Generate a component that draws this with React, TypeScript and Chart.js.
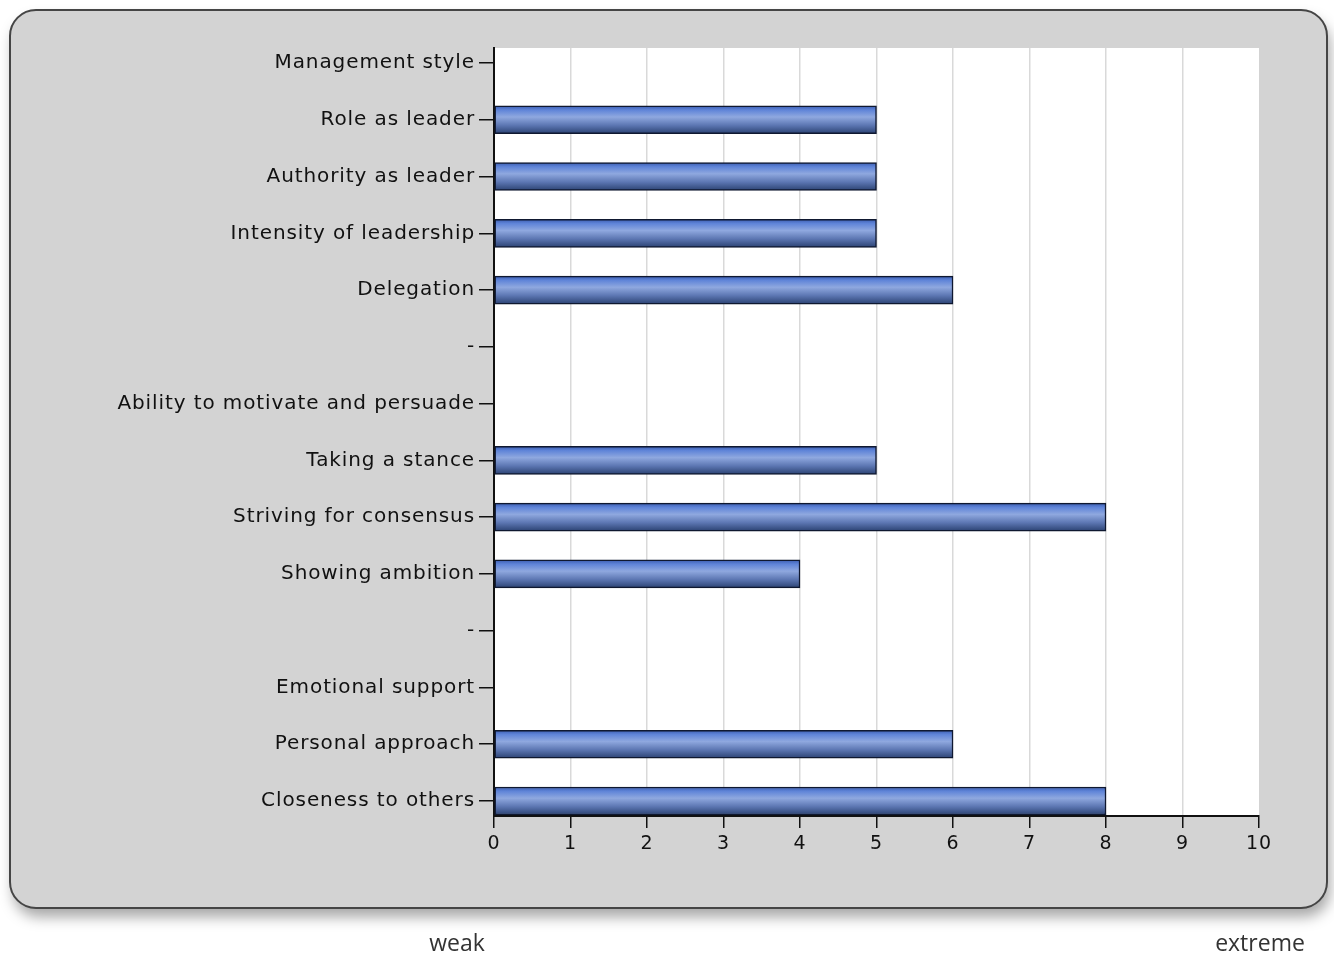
import React, { useEffect, useRef } from 'react';
import { Chart, registerables } from 'chart.js';

Chart.register(...registerables);

const categories: string[] = [
  'Management style',
  'Role as leader',
  'Authority as leader',
  'Intensity of leadership',
  'Delegation',
  '-',
  'Ability to motivate and persuade',
  'Taking a stance',
  'Striving for consensus',
  'Showing ambition',
  '-',
  'Emotional support',
  'Personal approach',
  'Closeness to others',
];

const scores: (number | null)[] = [null, 5, 5, 5, 6, null, null, 5, 8, 4, null, null, 6, 8];

const xMin = 0;
const xMax = 10;
const xStep = 1;

const scaleEndLabels: string[] = ['weak', 'extreme'];

const W = 1334;
const H = 958;

const panelPlugin = {
  id: 'panel',
  beforeDraw(chart: any) {
    const c = chart.ctx as CanvasRenderingContext2D;
    const area = chart.chartArea;
    c.save();
    c.shadowColor = 'rgba(0,0,0,0.35)';
    c.shadowBlur = 14;
    c.shadowOffsetX = 3;
    c.shadowOffsetY = 9;
    c.beginPath();
    (c as any).roundRect(10, 10, 1317, 898, 26);
    c.fillStyle = '#d3d3d3';
    c.fill();
    c.restore();
    c.save();
    c.beginPath();
    (c as any).roundRect(10, 10, 1317, 898, 26);
    c.lineWidth = 2;
    c.strokeStyle = '#454545';
    c.stroke();
    c.fillStyle = '#ffffff';
    c.fillRect(area.left, area.top, area.right - area.left, area.bottom - area.top);
    c.restore();
    (c as any).letterSpacing = '0.9px';
  },
  afterDraw(chart: any) {
    const c = chart.ctx as CanvasRenderingContext2D;
    (c as any).letterSpacing = '0px';
    c.save();
    c.font = '23px "Open Sans"';
    c.fillStyle = '#333333';
    c.textAlign = 'center';
    c.textBaseline = 'middle';
    c.fillText(scaleEndLabels[0], 457, 944);
    c.fillText(scaleEndLabels[1], 1260, 944);
    c.restore();
  },
};

export default function App() {
  const ref = useRef<HTMLCanvasElement | null>(null);

  useEffect(() => {
    const canvas = ref.current;
    if (!canvas) return;

    const points = scores
      .map((v, i) => (v == null ? null : { x: v, y: i }))
      .filter((p) => p !== null) as { x: number; y: number }[];

    const chart = new Chart(canvas, {
      type: 'bar',
      data: {
        datasets: [
          {
            data: points as any,
            barThickness: 28,
            borderWidth: 1.5,
            borderColor: '#0f1830',
            borderSkipped: false,
            backgroundColor: (ctx: any) => {
              const ch = ctx.chart;
              const ys = ch.scales && ch.scales.y;
              const raw = ctx.raw;
              if (!ys || !raw) return '#5a7cc8';
              const yc = ys.getPixelForValue(raw.y);
              if (!isFinite(yc)) return '#5a7cc8';
              const g = ch.ctx.createLinearGradient(0, yc - 14, 0, yc + 14);
              g.addColorStop(0, '#3a5cb0');
              g.addColorStop(0.15, '#5f84d8');
              g.addColorStop(0.4, '#8fa8df');
              g.addColorStop(0.7, '#5c76b2');
              g.addColorStop(1, '#2b4272');
              return g;
            },
          } as any,
        ],
      },
      options: {
        indexAxis: 'y',
        responsive: false,
        animation: false,
        devicePixelRatio: 1,
        layout: { padding: { left: 0, top: 48, right: 75, bottom: 0 } },
        plugins: {
          legend: { display: false },
          tooltip: { enabled: false },
        },
        scales: {
          y: {
            type: 'linear',
            reverse: true,
            offset: false,
            min: -0.264,
            max: categories.length - 1 + 0.264,
            afterBuildTicks: (scale: any) => {
              scale.ticks = categories.map((_, i) => ({ value: i }));
            },
            afterFit: (scale: any) => {
              scale.width = 494;
            },
            ticks: {
              autoSkip: false,
              padding: 4,
              color: '#111111',
              font: { family: 'DejaVu Sans', size: 20 },
              callback: (_v: any, index: number) => categories[index],
            },
            grid: {
              offset: false,
              drawOnChartArea: false,
              drawTicks: true,
              tickLength: 15,
              tickColor: '#111111',
              lineWidth: 1.5,
            },
            border: { display: true, color: '#111111', width: 2 },
          },
          x: {
            type: 'linear',
            position: 'bottom',
            min: xMin,
            max: xMax,
            afterFit: (scale: any) => {
              scale.height = 142;
            },
            ticks: {
              stepSize: xStep,
              padding: 5,
              color: '#111111',
              font: { family: 'DejaVu Sans', size: 19 },
            },
            grid: {
              color: (ctx: any) => (ctx.tick && (ctx.tick.value === xMax || ctx.tick.value === xMin) ? 'rgba(0,0,0,0)' : '#d9d9d9'),
              lineWidth: 1.5,
              tickLength: 12,
              tickColor: '#111111',
              drawTicks: true,
            },
            border: { display: true, color: '#111111', width: 2 },
          },
        },
      } as any,
      plugins: [panelPlugin],
    });

    return () => {
      chart.destroy();
    };
  }, []);

  return (
    <div style={{ position: 'absolute', left: 0, top: 0, width: W, height: H, background: '#ffffff' }}>
      <canvas ref={ref} width={W} height={H} style={{ width: W, height: H, display: 'block' }} />
    </div>
  );
}
